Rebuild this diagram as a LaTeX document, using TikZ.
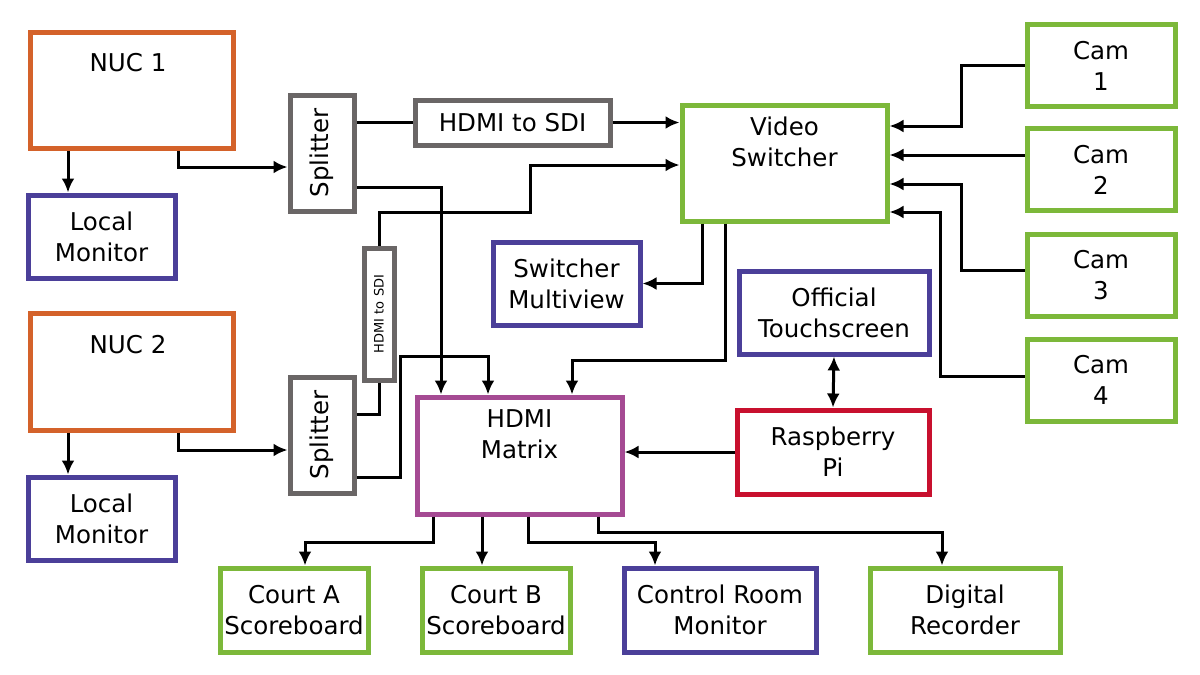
\documentclass[tikz,border=0pt]{standalone}
\usepackage{fontspec}
\setmainfont{DejaVu Sans}
\usetikzlibrary{arrows.meta}
\definecolor{cor}{HTML}{D4622A}
\definecolor{cpu}{HTML}{4B3F99}
\definecolor{cgr}{HTML}{6A6666}
\definecolor{cgn}{HTML}{7CB83A}
\definecolor{cmg}{HTML}{A54A93}
\definecolor{crd}{HTML}{C8102E}
\begin{document}
\begin{tikzpicture}[x=1pt,y=-1pt,
  box/.style={draw=#1,line width=5pt,inner sep=0pt,align=center,font=\fontsize{24.5}{31}\selectfont},
  a/.style={line width=3pt,-{Latex[length=14pt,width=13pt]}},
  l/.style={line width=3pt}]
\useasboundingbox (0,0) rectangle (1200,675);
\newcommand\bx[7]{\node[box=#2,minimum width=#5pt,minimum height=#6pt] (#1) at (#3,#4) {#7};}
\bx{nuc1}{cor}{131.5}{90}{203}{116}{}
\node[font=\fontsize{24.5}{31}\selectfont] at (128,63) {NUC 1};
\bx{lm1}{cpu}{101.5}{236.5}{147}{83}{Local\\Monitor}
\bx{nuc2}{cor}{131.5}{371.5}{203}{117}{}
\node[font=\fontsize{24.5}{31}\selectfont] at (128,345) {NUC 2};
\bx{lm2}{cpu}{101.5}{518.5}{147}{83}{Local\\Monitor}
\bx{spl1}{cgr}{322}{153}{64}{116}{\rotatebox{90}{Splitter}}
\bx{spl2}{cgr}{322}{435}{64}{116}{\rotatebox{90}{Splitter}}
\bx{h2s1}{cgr}{512.5}{122.5}{195}{45}{HDMI to SDI}
\node[box=cgr,minimum width=30pt,minimum height=132pt,font=\fontsize{13}{14}\selectfont] (h2s2) at (379,314) {\rotatebox{90}{HDMI to SDI}};
\bx{vs}{cgn}{784.5}{163}{205}{116}{Video\\Switcher\\[12pt]}
\bx{mv}{cpu}{566.5}{283.5}{147}{83}{Switcher\\Multiview}
\bx{ts}{cpu}{834}{312.5}{190}{83}{Official\\Touchscreen}
\bx{pi}{crd}{833}{452}{192}{84}{Raspberry\\Pi}
\bx{mx}{cmg}{519.5}{455.5}{205}{117}{HDMI\\Matrix\\[12pt]}
\bx{cam1}{cgn}{1101}{65.5}{148}{82}{Cam\\1}
\bx{cam2}{cgn}{1101}{169.5}{148}{82}{Cam\\2}
\bx{cam3}{cgn}{1101}{275.5}{148}{82}{Cam\\3}
\bx{cam4}{cgn}{1101}{380}{148}{82}{Cam\\4}
\bx{ca}{cgn}{294}{610}{148}{84}{Court A\\Scoreboard}
\bx{cb}{cgn}{496}{610}{148}{84}{Court B\\Scoreboard}
\bx{crm}{cpu}{720}{610}{192}{84}{Control Room\\Monitor}
\bx{dr}{cgn}{965}{610}{190}{84}{Digital\\Recorder}
\coordinate (k1) at (530,212);
\coordinate (k2) at (400,356);
\coordinate (k3) at (648,360);
\coordinate (k4) at (961,100);
\coordinate (k5) at (961,230);
\coordinate (k6) at (940,300);
\coordinate (k7) at (360,542);
\coordinate (k8) at (600,542);
\coordinate (k9) at (800,532);
\draw[a] ([xshift=-63.5pt]nuc1.south) -- ([xshift=-33.5pt]lm1.north);
\draw[a] ([xshift=46.5pt]nuc1.south) |- ([yshift=-14pt]spl1.west);
\draw[a] ([xshift=-63.5pt]nuc2.south) -- ([xshift=-33.5pt]lm2.north);
\draw[a] ([xshift=46.5pt]nuc2.south) |- ([yshift=-15pt]spl2.west);
\draw[l] (spl1.east |- h2s1.west) -- (h2s1.west);
\draw[a] (h2s1.east) -- (h2s1.east -| vs.west);
\draw[a] ([yshift=-34pt]spl1.east) -| ([xshift=-78.5pt]mx.north);
\draw[l] ([yshift=21pt]spl2.east) -| (h2s2.south);
\draw[a] (h2s2.north) |- (k1) |- ([yshift=-2pt]vs.west);
\draw[a] ([yshift=-42pt]spl2.east) -| (k2) -| ([xshift=-31.5pt]mx.north);
\draw[a] ([xshift=-82.5pt]vs.south) |- (mv.east);
\draw[a] ([xshift=-59.5pt]vs.south) |- (k3) -| ([xshift=52.5pt]mx.north);
\draw[a] (cam1.west) -| (k4) |- ([yshift=37pt]vs.east);
\draw[a] ([yshift=14.5pt]cam2.west) -- ([yshift=8pt]vs.east);
\draw[a] ([yshift=5.5pt]cam3.west) -| (k5) |- ([yshift=-21pt]vs.east);
\draw[a] ([yshift=4pt]cam4.west) -| (k6) |- ([yshift=-49pt]vs.east);
\draw[line width=3pt,{Latex[length=14pt,width=13pt]}-{Latex[length=14pt,width=13pt]}] (ts.south) -- (pi.north);
\draw[a] (pi.west) -- (pi.west -| mx.east);
\draw[a] ([xshift=-86.5pt]mx.south) |- (k7) -| ([xshift=11pt]ca.north);
\draw[a] ([xshift=-37.5pt]mx.south) -- ([xshift=-14pt]cb.north);
\draw[a] ([xshift=8.5pt]mx.south) |- (k8) -| ([xshift=-65pt]crm.north);
\draw[a] ([xshift=78.5pt]mx.south) |- (k9) -| ([xshift=-23pt]dr.north);
\end{tikzpicture}
\end{document}
